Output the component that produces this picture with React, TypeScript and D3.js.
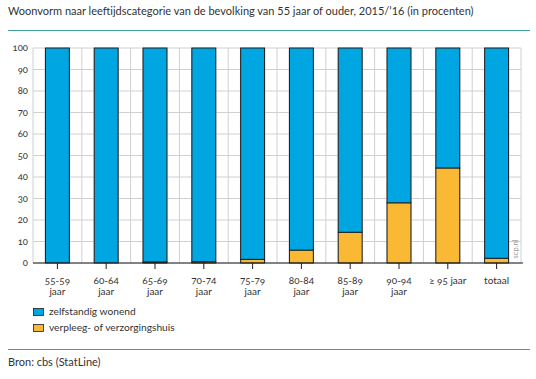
import React from "react";
import * as d3 from "d3";

const title = "Woonvorm naar leeftijdscategorie van de bevolking van 55 jaar of ouder, 2015/’16 (in procenten)";
const categories = ["55-59", "60-64", "65-69", "70-74", "75-79", "80-84", "85-89", "90-94", "≥ 95 jaar", "totaal"];
const categorySub = ["jaar", "jaar", "jaar", "jaar", "jaar", "jaar", "jaar", "jaar", "", ""];
const verpleeg = [0, 0, 0.5, 0.6, 1.7, 6.0, 14.3, 28.0, 44.2, 2.2];
const zelfstandig = [100, 100, 99.5, 99.4, 98.3, 94.0, 85.7, 72.0, 55.8, 97.8];
const yTicks = [0, 10, 20, 30, 40, 50, 60, 70, 80, 90, 100];
const seriesNames = ["zelfstandig wonend", "verpleeg- of verzorgingshuis"];
const source = "Bron: cbs (StatLine)";
const credit = "scp.nl";

const W = 536;
const H = 379;
const BLUE = "#00a6e2";
const ORANGE = "#f9b934";
const TEAL = "#3f9fa5";
const GRID = "#d0d0d0";
const DARK = "#1e1e1e";
const TEXT = "#333333";
const FONT = "Lato, 'Open Sans', sans-serif";

export default function App() {
  const x = d3.scaleBand<string>().domain(categories).range([33, 521]).paddingInner(0).paddingOuter(0);
  const y = d3.scaleLinear().domain([0, 100]).range([263, 48]);
  const bw = x.bandwidth();
  const barW = bw * 0.49;

  const vLines: number[] = [];
  categories.forEach((c) => {
    for (let k = 0; k < 4; k++) vLines.push((x(c) as number) + (k * bw) / 4);
  });
  vLines.push(x.range()[1]);

  const stack = d3.stack<number>().keys(["v", "z"]).value((i, key) => (key === "v" ? verpleeg[i] : zelfstandig[i]));
  const series = stack(d3.range(categories.length));
  const colors = [ORANGE, BLUE];

  return (
    <svg width={W} height={H} style={{ position: "absolute", left: 0, top: 0, background: "#fff" }} fontFamily={FONT}>
      <text x={8} y={15} fontSize={11} fill={TEXT}>{title}</text>
      <line x1={8} x2={530} y1={30.5} y2={30.5} stroke={TEAL} strokeWidth={1.2} />

      {yTicks.map((t) => (
        <line key={"h" + t} x1={33} x2={521} y1={y(t)} y2={y(t)} stroke={GRID} strokeWidth={1} />
      ))}
      {vLines.map((v, i) => (
        <line key={"v" + i} x1={v} x2={v} y1={y(100)} y2={y(0)} stroke={GRID} strokeWidth={1} />
      ))}

      {yTicks.map((t) => (
        <text key={"yl" + t} x={28} y={y(t)} dy="0.35em" textAnchor="end" fontSize={9.5} fill={TEXT}
          style={{ fontVariantNumeric: "oldstyle-nums" }}>{t}</text>
      ))}

      {series.map((s, si) =>
        s.map((d, i) => {
          const h = y(d[0]) - y(d[1]);
          if (h <= 0) return null;
          return (
            <rect key={si + "-" + i} x={(x(categories[i]) as number) + (bw - barW) / 2} y={y(d[1])}
              width={barW} height={h} fill={colors[si]} stroke={DARK} strokeWidth={1} />
          );
        })
      )}

      <line x1={33} x2={523} y1={y(0)} y2={y(0)} stroke={DARK} strokeWidth={1.2} />
      {categories.map((c, i) => {
        const cx = (x(c) as number) + bw / 2;
        return (
          <g key={"xl" + i}>
            <line x1={cx} x2={cx} y1={y(0)} y2={y(0) + 6} stroke={DARK} strokeWidth={1} />
            <text x={cx} y={284} textAnchor="middle" fontSize={10} fill={TEXT} style={{ fontVariantNumeric: "oldstyle-nums" }}>{c}</text>
            {categorySub[i] && (
              <text x={cx} y={295} textAnchor="middle" fontSize={10} fill={TEXT}>{categorySub[i]}</text>
            )}
          </g>
        );
      })}

      <text transform="translate(518,249) rotate(-90)" textAnchor="middle" fontSize={7.5} fill="#999">{credit}</text>

      {seriesNames.map((n, i) => (
        <g key={"lg" + i}>
          <rect x={33.5} y={308.5 + i * 16} width={10} height={7} fill={i === 0 ? BLUE : ORANGE} stroke={DARK} strokeWidth={0.8} />
          <text x={49} y={315 + i * 16} fontSize={10.2} fill={TEXT}>{n}</text>
        </g>
      ))}

      <line x1={8} x2={530} y1={349.5} y2={349.5} stroke={TEAL} strokeWidth={1.2} />
      <text x={8} y={366} fontSize={11} fill={TEXT}>{source}</text>
    </svg>
  );
}
